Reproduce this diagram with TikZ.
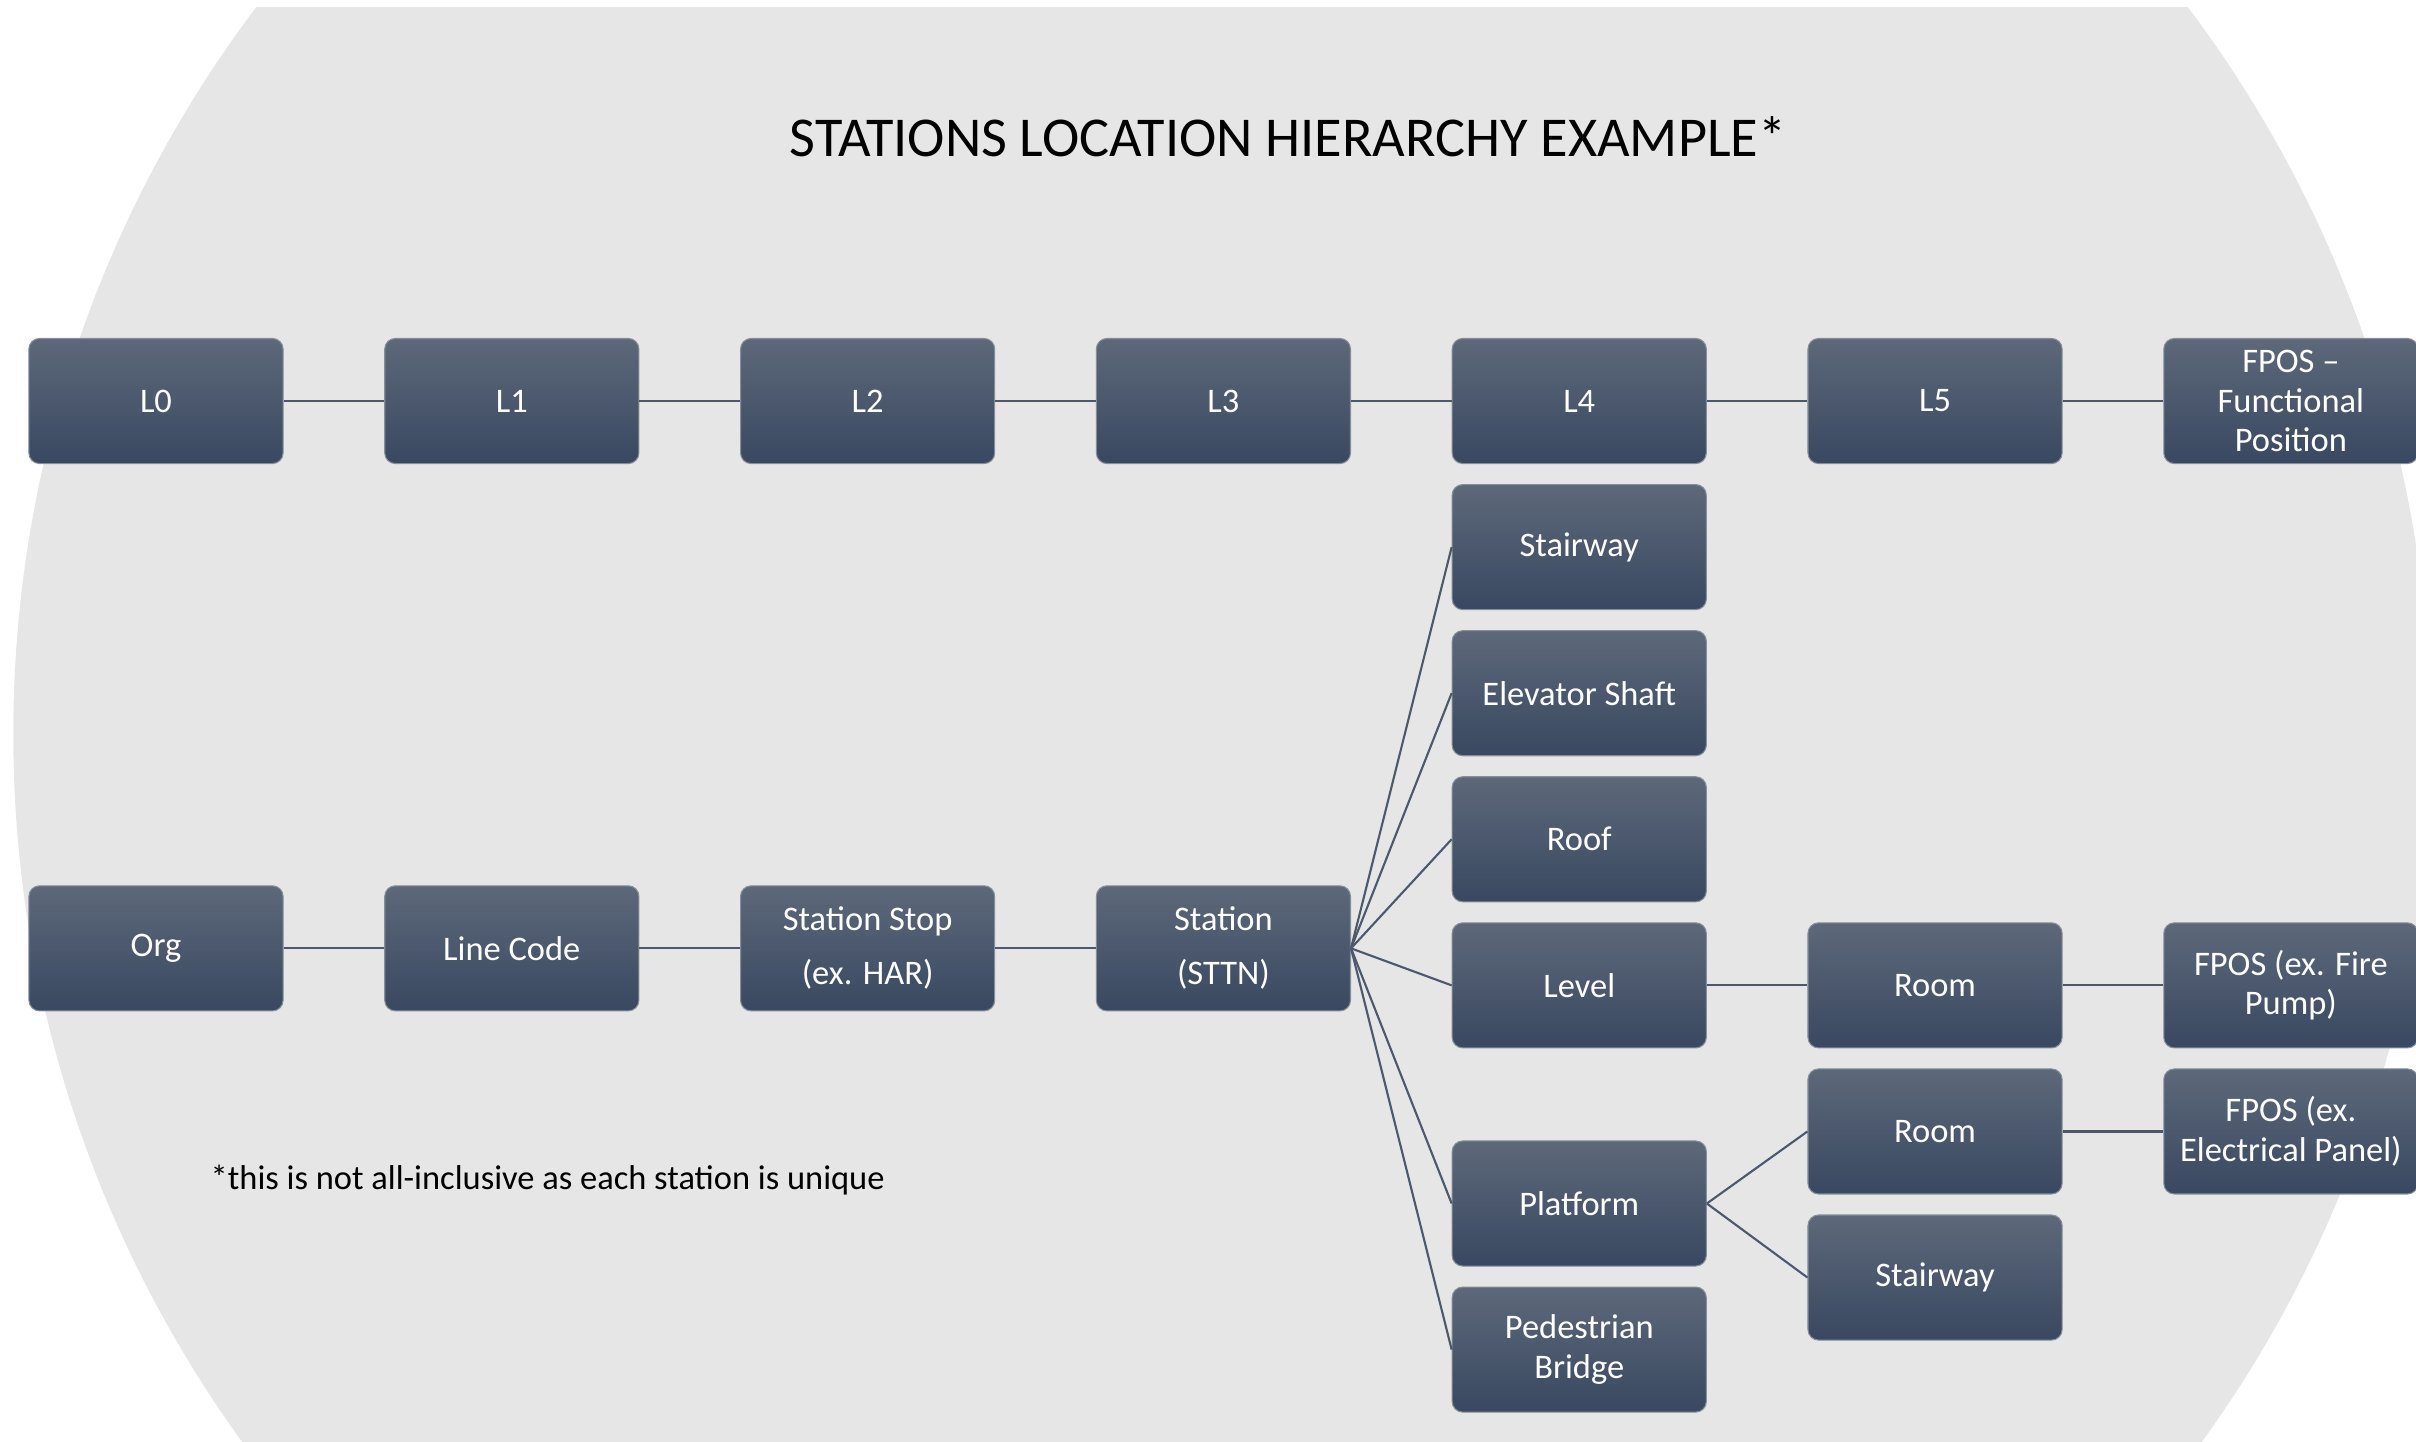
\documentclass[tikz,border=0pt]{standalone}
\usepackage{fontspec}
\setmainfont{Carlito}
\usetikzlibrary{positioning}

\definecolor{bggray}{HTML}{E6E6E6}
\definecolor{boxtop}{HTML}{5D6879}
\definecolor{boxbot}{HTML}{394861}
\definecolor{linegray}{HTML}{4C586C}

\begin{document}
\begin{tikzpicture}[x=0.01cm,y=-0.01cm,on grid,node distance=1.46cm and 3.556cm,
  main node/.style={rectangle,rounded corners=3pt,top color=boxtop,bottom color=boxbot,
    draw=boxtop!75!white,line width=0.3pt,minimum width=2.54cm,minimum height=1.25cm,
    inner sep=1pt,align=center,text=white,font=\fontsize{9.8}{11.2}\selectfont},
  conn/.style={draw=linegray,line width=0.6pt}]

 \useasboundingbox (0,0) rectangle (2416,1441);
 % grey disc behind everything
 \begin{scope}
  \clip (0,7) rectangle (2416,1441);
  \fill[bggray] (1222,734) circle [radius=12.08cm];
 \end{scope}

 \node (title) at (1288,137) {\fontsize{16}{19}\selectfont STATIONS LOCATION HIERARCHY EXAMPLE*};
 \node[anchor=west,inner sep=0pt] (note) at (210,1180) {\fontsize{9.8}{11}\selectfont *this is not all-inclusive as each station is unique};

 % level row
 \node[main node] (l0) at (156,401) {L0};
 \node[main node] (l1) [right=of l0] {L1};
 \node[main node] (l2) [right=of l1] {L2};
 \node[main node] (l3) [right=of l2] {L3};
 \node[main node] (l4) [right=of l3] {L4};
 \node[main node] (l5) [right=of l4] {L5};
 \node[main node] (fpos) [right=of l5] {FPOS --\\Functional\\Position};

 % station row
 \node[main node] (org) [below=5.47cm of l0] {Org};
 \node[main node] (line) [right=of org] {Line Code};
 \node[main node] (stop) [right=of line] {Station Stop\\[4.1pt](ex. HAR)};
 \node[main node] (station) [right=of stop] {Station\\[4.1pt](STTN)};

 % L4 children
 \node[main node] (stair) [below=of l4] {Stairway};
 \node[main node] (elev) [below=of stair] {Elevator Shaft};
 \node[main node] (roof) [below=of elev] {Roof};
 \node[main node] (level) [below=of roof] {Level};
 \node[main node] (platform) [below=2.18cm of level] {Platform};
 \node[main node] (bridge) [below=of platform] {Pedestrian\\Bridge};

 % L5 and FPOS
 \node[main node] (room) [right=of level] {Room};
 \node[main node] (fposfire) [right=of room] {FPOS (ex. Fire\\Pump)};
 \node[main node] (room2) [below=of room] {Room};
 \node[main node] (stair2) [below=of room2] {Stairway};
 \node[main node] (fposelec) [right=of room2] {FPOS (ex.\\Electrical Panel)};

 \path[conn]
    (l0) edge (l1)
    (l1) edge (l2)
    (l2) edge (l3)
    (l3) edge (l4)
    (l4) edge (l5)
    (l5) edge (fpos)
    (org) edge (line)
    (line) edge (stop)
    (stop) edge (station)
    (station.east) edge (stair.west)
    (station.east) edge (elev.west)
    (station.east) edge (roof.west)
    (station.east) edge (level.west)
    (station.east) edge (platform.west)
    (station.east) edge (bridge.west)
    (level) edge (room)
    (room) edge (fposfire)
    (room2) edge (fposelec)
    (platform.east) edge (room2.west)
    (platform.east) edge (stair2.west);

\end{tikzpicture}
\end{document}
